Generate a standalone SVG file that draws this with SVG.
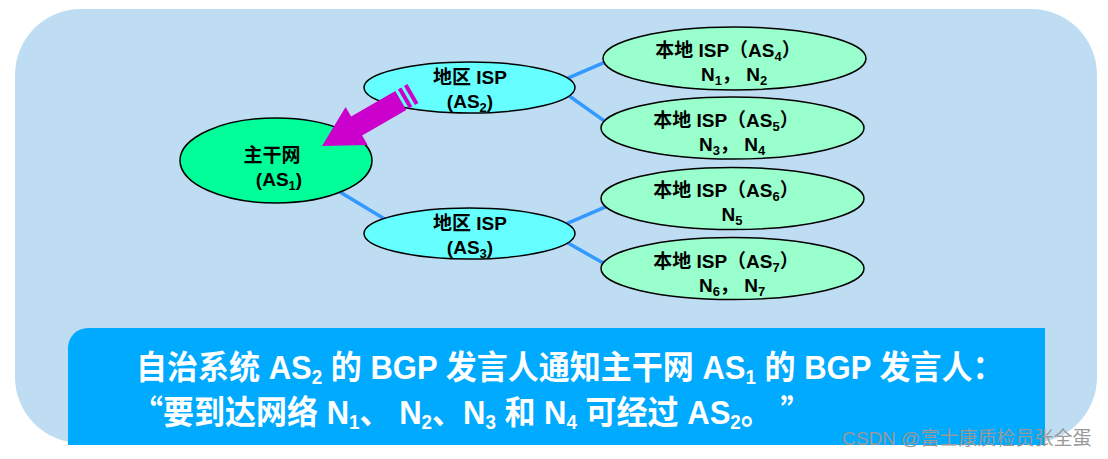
<svg xmlns="http://www.w3.org/2000/svg" width="1108" height="459" viewBox="0 0 1108 459">
<style>
.lbl{font-family:"Liberation Sans","Noto Sans CJK SC",sans-serif;font-weight:bold;font-size:19px;fill:#000;text-anchor:middle}
.big{font-family:"Liberation Sans","Noto Sans CJK SC",sans-serif;font-weight:bold;font-size:33px;fill:#fff}
.cjk{font-family:"Noto Sans CJK SC",sans-serif}
.wm{font-family:"Liberation Sans","Noto Sans CJK SC",sans-serif;font-size:19px;fill:#999}
.conn{stroke:#3399FF;stroke-width:3.5;fill:none}
.n{stroke:#000;stroke-width:1.5}
.core{fill:#00FF99}
.reg{fill:#66FFFF}
.loc{fill:#99FFCC}
</style>
<rect x="15" y="9" width="1082" height="434" rx="66" ry="66" fill="#BEDDF2"/>
<path d="M88,328 H1045 V445 H68 V348 A20,20 0 0 1 88,328 Z" fill="#00AAFF"/>
<g id="connectors">
<line class="conn" x1="330" y1="186" x2="395" y2="225.3"/>
<line class="conn" x1="565" y1="79.3" x2="612" y2="59.1"/>
<line class="conn" x1="565" y1="93" x2="612" y2="126.4"/>
<line class="conn" x1="565" y1="224.3" x2="612" y2="204.1"/>
<line class="conn" x1="565" y1="241.3" x2="612" y2="268.1"/>
</g>
<g id="as1">
<ellipse class="n core" cx="276" cy="160.5" rx="96" ry="42.5"/>
<text class="lbl" x="272" y="162" font-size="20">主干网</text>
<text class="lbl" x="279" y="186">(AS<tspan font-size="13" dy="4">1</tspan><tspan dy="-4">)</tspan></text>
</g>
<g id="as2">
<ellipse class="n reg" cx="469.5" cy="87.5" rx="105.5" ry="25.5"/>
<text class="lbl" x="470" y="84">地区 ISP</text>
<text class="lbl" x="470" y="108">(AS<tspan font-size="13" dy="4">2</tspan><tspan dy="-4">)</tspan></text>
</g>
<g id="as3">
<ellipse class="n reg" cx="469.5" cy="233.5" rx="105.5" ry="25.5"/>
<text class="lbl" x="470" y="230">地区 ISP</text>
<text class="lbl" x="470" y="254">(AS<tspan font-size="13" dy="4">3</tspan><tspan dy="-4">)</tspan></text>
</g>
<g id="as4">
<ellipse class="n loc" cx="734.5" cy="58.5" rx="131.5" ry="31.5"/>
<text class="lbl" x="728" y="57">本地 ISP（AS<tspan font-size="13" dy="4">4</tspan><tspan dy="-4">）</tspan></text>
<text class="lbl" x="734" y="81">N<tspan font-size="13" dy="4">1</tspan><tspan dy="-4">，  N</tspan><tspan font-size="13" dy="4">2</tspan></text>
</g>
<g id="as5">
<ellipse class="n loc" cx="732.5" cy="128" rx="131.5" ry="31"/>
<text class="lbl" x="726" y="127">本地 ISP（AS<tspan font-size="13" dy="4">5</tspan><tspan dy="-4">）</tspan></text>
<text class="lbl" x="732" y="151">N<tspan font-size="13" dy="4">3</tspan><tspan dy="-4">，  N</tspan><tspan font-size="13" dy="4">4</tspan></text>
</g>
<g id="as6">
<ellipse class="n loc" cx="732.5" cy="198.5" rx="131.5" ry="31"/>
<text class="lbl" x="726" y="197">本地 ISP（AS<tspan font-size="13" dy="4">6</tspan><tspan dy="-4">）</tspan></text>
<text class="lbl" x="732" y="221">N<tspan font-size="13" dy="4">5</tspan></text>
</g>
<g id="as7">
<ellipse class="n loc" cx="732.5" cy="268.5" rx="131.5" ry="31"/>
<text class="lbl" x="726" y="268">本地 ISP（AS<tspan font-size="13" dy="4">7</tspan><tspan dy="-4">）</tspan></text>
<text class="lbl" x="732" y="292">N<tspan font-size="13" dy="4">6</tspan><tspan dy="-4">，  N</tspan><tspan font-size="13" dy="4">7</tspan></text>
</g>
<g id="arrow" fill="#CC00CC" transform="translate(322,146) rotate(-30)">
<path d="M0,0 L40,-22 L40,-11 L91,-11 L91,11 L40,11 L40,22 Z"/>
<rect x="94" y="-11" width="4" height="22"/>
<rect x="101" y="-11" width="4" height="22"/>
</g>
<g id="caption">
<text class="big" transform="translate(136,379) scale(0.94,1)">自治系统 AS<tspan font-size="20" dy="5">2</tspan><tspan dy="-5"> 的 BGP 发言人通知主干网 AS</tspan><tspan font-size="20" dy="5">1</tspan><tspan dy="-5"> 的 BGP 发言人：</tspan></text>
<text class="big" transform="translate(132,424) scale(0.94,1)"><tspan class="cjk">“</tspan>要到达网络 N<tspan font-size="20" dy="5">1</tspan><tspan dy="-5">、 N</tspan><tspan font-size="20" dy="5">2</tspan><tspan dy="-5">、N</tspan><tspan font-size="20" dy="5">3</tspan><tspan dy="-5"> 和 N</tspan><tspan font-size="20" dy="5">4</tspan><tspan dy="-5"> 可经过 AS</tspan><tspan font-size="20" dy="5">2</tspan><tspan dy="-5">。 </tspan><tspan class="cjk">”</tspan></text>
</g>
<text class="wm" x="842" y="445">CSDN @富士康质检员张全蛋</text>
</svg>
